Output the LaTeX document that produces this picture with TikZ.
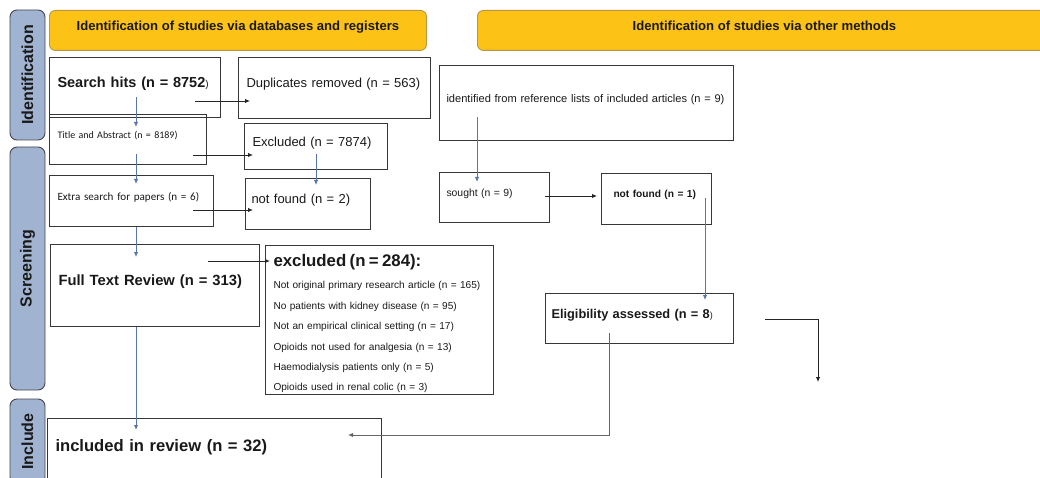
\documentclass[tikz,border=0pt]{standalone}
\usepackage{fontspec}
\setmainfont{Liberation Sans}
\newfontfamily\calibri{Carlito}
\usetikzlibrary{calc}
\usetikzlibrary{arrows.meta}
\tikzset{>={Latex[length=5pt,width=4.5pt]}}
\definecolor{hdryellow}{RGB}{252,194,22}
\definecolor{hdredge}{RGB}{185,150,70}
\definecolor{barblue}{RGB}{160,179,208}
\definecolor{baredge}{RGB}{70,70,80}
\definecolor{arrblue}{RGB}{88,118,172}
\definecolor{boxedge}{RGB}{55,55,55}
\definecolor{txt}{RGB}{25,25,25}

\begin{document}
\begin{tikzpicture}[x=1pt, y=-1pt,
    hdr/.style={draw=hdredge, fill=hdryellow, rounded corners=6pt, line width=0.9pt,
        anchor=north west, minimum height=40pt, text depth=10pt, text=txt,
        font=\fontsize{13.1}{15}\selectfont\bfseries},
    sidebar/.style={draw=baredge, fill=barblue, rounded corners=7pt, line width=0.9pt,
        rotate=90, minimum height=35pt, inner sep=0pt, text=txt,
        font=\fontsize{16}{18}\selectfont\bfseries},
    box/.style={draw=boxedge, line width=1pt, anchor=north west, align=left,
        inner xsep=8pt, inner ysep=0pt, text depth=10pt, text=txt},
    listbox/.style={draw=boxedge, line width=1pt, anchor=north west, align=left,
        inner xsep=8pt, inner ysep=0pt, text=txt},
    blk/.style={->, draw=black!85, line width=0.9pt},
    blu/.style={->, draw=arrblue, line width=0.9pt},
    gry/.style={->, draw=black!60, line width=0.9pt},
]
\useasboundingbox (0,0) rectangle (1040,478);

\node[sidebar, minimum width=130pt] (idbar) at (27.5,75) {Identification};
\node[sidebar, minimum width=243pt] (scrbar) at (27.5,268.5) {Screening};
\node[sidebar, minimum width=85pt] (incbar) at (27.5,441.5) {Include};

\node[hdr, minimum width=377pt] (hdrdb) at (49,10) {Identification of studies via databases and registers};
\node[hdr, minimum width=574pt] (hdrother) at (477,10) {Identification of studies via other methods};

\node[box, text width=155pt, minimum height=60pt, font=\fontsize{14.5}{16}\selectfont\bfseries] (hits) at (49,57)
    {\mbox{Search hits (n = 8752{\mdseries\fontsize{10}{12}\selectfont)}}};
\node[box, text width=176pt, minimum height=61pt, font=\fontsize{13}{15}\selectfont] (dup) at (238,57)
    {\mbox{Duplicates removed (n = 563)}};
\node[box, text width=141pt, minimum height=50pt, font=\calibri\fontsize{10}{12}\selectfont] (title) at (49,114)
    {\mbox{Title and Abstract (n = 8189)}};
\node[box, text width=127pt, minimum height=46pt, font=\fontsize{13}{15}\selectfont] (excl) at (244,123)
    {\mbox{Excluded (n = 7874)}};
\node[box, text width=148pt, minimum height=51pt, font=\calibri\fontsize{11.1}{13}\selectfont] (extra) at (49,175)
    {\mbox{Extra search for papers (n = 6)}};
\node[box, inner xsep=6pt, text width=113pt, minimum height=51pt, font=\fontsize{13}{15}\selectfont] (nfdb) at (245,178)
    {\mbox{not found (n = 2)}};
\node[box, text width=193pt, minimum height=82pt, font=\fontsize{14.8}{16}\selectfont\bfseries] (full) at (50,244)
    {\mbox{Full Text Review (n = 313)}};
\node[listbox, text width=212pt, minimum height=149pt, font=\fontsize{10.1}{20.4}\selectfont] (exfull) at (265,245)
    {{\rule{0pt}{19.3pt}\fontsize{16.8}{19}\selectfont\bfseries excluded (n = 284):}\\[2pt]
     Not original primary research article (n = 165)\\
     No patients with kidney disease (n = 95)\\
     Not an empirical clinical setting (n = 17)\\
     Opioids not used for analgesia (n = 13)\\
     Haemodialysis patients only (n = 5)\\
     Opioids used in renal colic (n = 3)};
\node[box, text width=318pt, minimum height=64pt, font=\fontsize{16.6}{19}\selectfont\bfseries] (incl) at (47,418)
    {\mbox{included in review (n = 32)}};

\node[box, inner xsep=7pt, text width=280pt, minimum height=75pt, font=\fontsize{11.1}{13}\selectfont] (refl) at (439,65)
    {\mbox{identified from reference lists of included articles (n = 9)}};
\node[box, inner xsep=7pt, text width=96pt, minimum height=50pt, font=\fontsize{10.4}{12}\selectfont] (sought) at (439,172)
    {\mbox{sought (n = 9)}};
\node[box, inner xsep=12pt, text width=86pt, minimum height=51pt, font=\fontsize{10.2}{12}\selectfont\bfseries] (nfother) at (601,173)
    {\mbox{not found (n = 1)}};
\node[box, inner xsep=6pt, text width=176pt, minimum height=50pt, font=\fontsize{12.8}{15}\selectfont\bfseries] (elig) at (545,293)
    {\mbox{Eligibility assessed (n = 8{\mdseries\fontsize{9}{11}\selectfont)}}};

\draw[blk] ($(hits.north west)+(146,44)$) -- ($(dup.north west)+(12,44)$);
\draw[blu] ($(hits.north west)+(87,40)$) -- ($(title.north west)+(87,13)$);
\draw[blk] ($(title.north west)+(144,41)$) -- ($(excl.north west)+(9,32)$);
\draw[blu] ($(title.north west)+(87,40)$) -- ($(extra.north west)+(87,9)$);
\draw[blu] ($(excl.north west)+(72,31)$) -- ($(nfdb.north west)+(71,7)$);
\draw[blk] ($(extra.north west)+(144,35)$) -- ($(nfdb.north west)+(8,32)$);
\draw[blu] ($(extra.south west)+(87,0)$) -- ($(full.north west)+(86,13)$);
\draw[blk] ($(full.north west)+(158,17)$) -- ($(exfull.north west)+(5,16)$);
\draw[blu] ($(full.south west)+(86,0)$) -- ($(incl.north west)+(89,12)$);

\draw[blu] ($(refl.north west)+(38,52)$) -- ($(sought.north west)+(38,10)$);
\draw[blk] ($(sought.north west)+(106,24)$) -- ($(nfother.north west)+(-4,23)$);
\draw[blu] ($(nfother.north west)+(104,25)$) -- ($(elig.north west)+(160,7)$);
\draw[gry] ($(elig.north west)+(64,40)$) |- ($(incl.north west)+(301,17)$);
\coordinate (drop) at (818,382);
\draw[blk] ($(elig.north west)+(220,26)$) -| (drop);
\end{tikzpicture}
\end{document}
